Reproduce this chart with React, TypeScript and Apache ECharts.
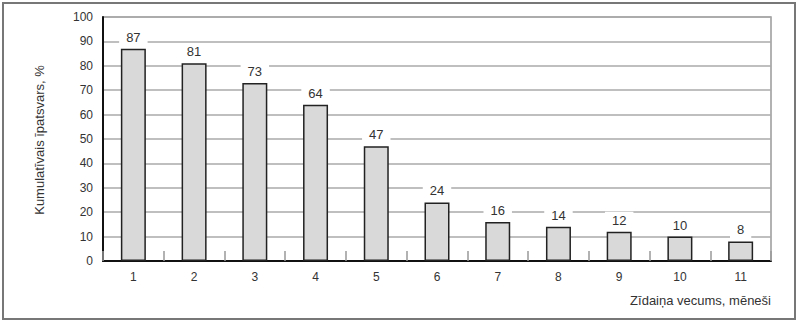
import React, { useEffect, useRef } from "react";
import * as echarts from "echarts";

const categories = ["1", "2", "3", "4", "5", "6", "7", "8", "9", "10", "11"];
const values = [87, 81, 73, 64, 47, 24, 16, 14, 12, 10, 8];
const yTitle = "Kumulatīvais īpatsvars, %";
const xTitle = "Zīdaiņa vecums, mēneši";

const FONT = "'Liberation Sans', Arial, sans-serif";

export default function App() {
  const ref = useRef<HTMLDivElement>(null);
  useEffect(() => {
    document.body.style.margin = "0";
    const chart = echarts.init(ref.current!, null, { renderer: "svg" });
    chart.setOption({
      animation: false,
      backgroundColor: "#fff",
      textStyle: { fontFamily: FONT },
      grid: {
        left: 103,
        right: 29,
        top: 17,
        bottom: 62,
        show: true,
        borderColor: "#999",
        borderWidth: 1.5,
        backgroundColor: "transparent",
      },
      xAxis: {
        type: "category",
        data: categories,
        axisLine: { lineStyle: { color: "#111", width: 2 } },
        axisTick: {
          show: true,
          inside: true,
          length: 10,
          alignWithLabel: false,
          lineStyle: { color: "#999", width: 1.5 },
        },
        axisLabel: { color: "#333", fontSize: 12, margin: 10, fontFamily: FONT },
        splitLine: { show: false },
      },
      yAxis: {
        type: "value",
        min: 0,
        max: 100,
        interval: 10,
        axisLine: { show: true, lineStyle: { color: "#111", width: 2 } },
        axisTick: { show: false },
        axisLabel: { color: "#333", fontSize: 12, margin: 10, fontFamily: FONT },
        splitLine: { show: true, lineStyle: { color: "#aaa", width: 1.5 } },
      },
      series: [
        {
          type: "bar",
          data: values,
          barWidth: 25,
          itemStyle: { color: "#d9d9d9", borderColor: "#222", borderWidth: 1.5 },
          label: {
            show: true,
            position: "top",
            distance: 3,
            color: "#333",
            fontSize: 13,
            fontFamily: FONT,
            backgroundColor: "#fff",
            padding: [2, 7],
          },
        },
      ],
      graphic: [
        {
          type: "rect",
          shape: { x: 3, y: 3, width: 792, height: 316 },
          style: { fill: "none", stroke: "#777", lineWidth: 2 },
          silent: true,
        },
        {
          type: "text",
          x: 39,
          y: 140,
          rotation: Math.PI / 2,
          style: {
            text: yTitle,
            fill: "#333",
            fontSize: 13,
            fontFamily: FONT,
            textAlign: "center",
            textVerticalAlign: "middle",
          },
        },
        {
          type: "text",
          x: 771,
          y: 300,
          style: {
            text: xTitle,
            fill: "#333",
            fontSize: 13,
            fontFamily: FONT,
            textAlign: "right",
            textVerticalAlign: "middle",
          },
        },
      ],
    });
    return () => chart.dispose();
  }, []);
  return (
    <div
      ref={ref}
      style={{ position: "absolute", left: 0, top: 0, width: 800, height: 323 }}
    />
  );
}
